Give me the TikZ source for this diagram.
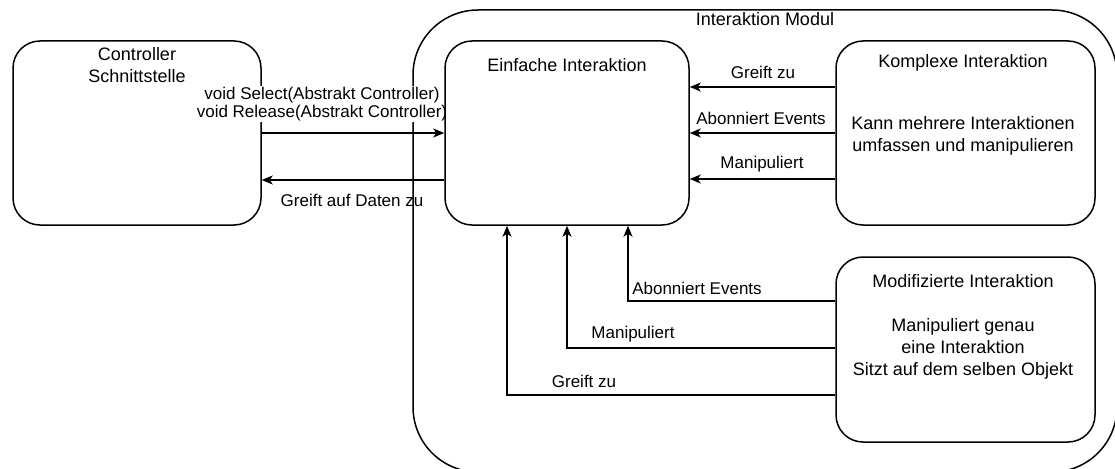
\documentclass[tikz,border=0pt]{standalone}
\usepackage{fontspec}
\setmainfont{Liberation Sans}
\usetikzlibrary{arrows.meta}
\begin{document}
\begin{tikzpicture}[x=1pt,y=-1pt,
  boxed/.style={draw, line width=1.5pt, rounded corners=27pt, fill=white, inner sep=0pt, minimum height=184pt},
  arr/.style={line width=1.5pt, -{Stealth[length=11pt,width=9pt,inset=3pt]}},
  ttl/.style={font=\fontsize{18}{22}\selectfont, align=center, inner sep=0pt},
  lbl/.style={font=\fontsize{17}{18}\selectfont, align=center, inner sep=0pt}]
\clip (0,0) rectangle (1115,468);
\fill[white] (0,0) rectangle (1115,468);
% outer module
\node[draw, line width=1.5pt, rounded corners=65pt, inner sep=0pt, minimum width=704pt, minimum height=462pt] (modul) at (765,241) {};
\node[ttl] (modt) at (765,19) {Interaktion Modul};
% controller box
\node[boxed, minimum width=248pt] (ctrl) at (137,133) {};
% select label (white background over borders)
\node[lbl, fill=white, inner sep=1.5pt] (lsel) at (322,104) {void Select(Abstrakt Controller)\\void Release(Abstrakt Controller)};
% other boxes
\node[boxed, minimum width=244pt] (einf) at (567,133) {};
\node[boxed, minimum width=259pt] (komp) at (965.5,133) {};
\node[boxed, minimum width=259pt, minimum height=185pt] (modi) at (965.5,349.5) {};
% box texts
\node[ttl] (tctrl) at (137,65.5) {Controller\\Schnittstelle};
\node[ttl] (teinf) at (567,65) {Einfache Interaktion};
\node[ttl] (tkomp) at (963,63) {Komplexe Interaktion};
\node[ttl] (bkomp) at (963,136) {Kann mehrere Interaktionen\\umfassen und manipulieren};
\node[ttl] (tmodi) at (963,281) {Modifizierte Interaktion};
\node[ttl] (bmodi) at (963,349) {Manipuliert genau\\eine Interaktion\\Sitzt auf dem selben Objekt};
% left arrows
\draw[arr] (ctrl.east |- 0,133) -- (einf.west |- 0,133);
\draw[arr] (einf.west |- 0,180) -- (ctrl.east |- 0,180);
\node[lbl] (ldat) at (352,200) {Greift auf Daten zu};
% komplex arrows
\draw[arr] (komp.west |- 0,87) -- (einf.east |- 0,87);
\draw[arr] (komp.west |- 0,133) -- (einf.east |- 0,133);
\draw[arr] (komp.west |- 0,179) -- (einf.east |- 0,179);
\node[lbl] (lk1) at (763,72) {Greift zu};
\node[lbl] (lk2) at (761,118) {Abonniert Events};
\node[lbl] (lk3) at (762,164) {Manipuliert};
% modifiziert arrows
\draw[arr] (modi.west |- 0,301) -| (einf.south -| 628,0);
\draw[arr] (modi.west |- 0,348) -| (einf.south -| 567,0);
\draw[arr] (modi.west |- 0,395) -| (einf.south -| 507,0);
\node[lbl] (lm1) at (697,288) {Abonniert Events};
\node[lbl] (lm2) at (633,334) {Manipuliert};
\node[lbl] (lm3) at (584,381) {Greift zu};
\end{tikzpicture}
\end{document}
